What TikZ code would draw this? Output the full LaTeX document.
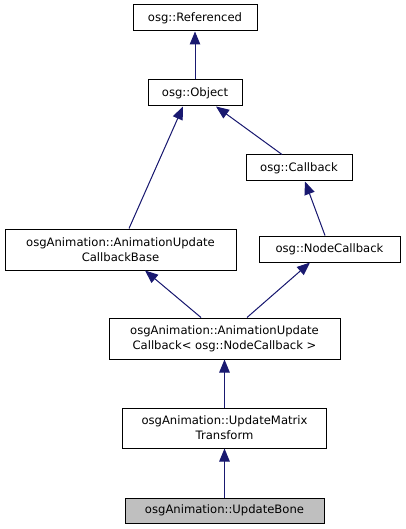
\documentclass[tikz,border=0pt]{standalone}
\usepackage{fontspec}
\setmainfont{DejaVu Sans}
\usetikzlibrary{arrows.meta}
\definecolor{edgeblue}{HTML}{191970}
\definecolor{hlgrey}{HTML}{BFBFBF}
\begin{document}
\begin{tikzpicture}[x=1pt,y=-1pt,
  cls/.style={draw=black,line width=1pt,fill=white,inner sep=0pt,align=center,
    font=\fontsize{11.6}{15}\selectfont},
  inh/.style={draw=edgeblue,line width=1pt,-{Triangle[length=13pt,width=10.5pt]},fill=edgeblue}]
\useasboundingbox (0,0) rectangle (405,529);
\node[cls,minimum width=124,minimum height=26] (ref) at (195,18) {osg::Referenced};
\node[cls,minimum width=94,minimum height=26] (obj) at (195,93) {osg::Object};
\node[cls,minimum width=106,minimum height=26] (cb) at (299,168) {osg::Callback};
\node[cls,minimum width=231,minimum height=41] (base) at (120.5,249.5) {osgAnimation::AnimationUpdate\\CallbackBase};
\node[cls,minimum width=141,minimum height=26] (ncb) at (329.5,249) {osg::NodeCallback};
\node[cls,minimum width=231,minimum height=41] (auc) at (224.5,338.5) {osgAnimation::AnimationUpdate\\Callback< osg::NodeCallback >};
\node[cls,minimum width=204,minimum height=40] (umt) at (224.5,428) {osgAnimation::UpdateMatrix\\Transform};
\node[cls,fill=hlgrey,minimum width=199,minimum height=25] (ub) at (224.5,510.5) {osgAnimation::UpdateBone};
\draw[inh] (obj.north) -- (ref.south);
\draw[inh] ([xshift=8.5]base.north) -- ([xshift=-12]obj.south);
\draw[inh] ([xshift=-17]cb.north) -- ([xshift=21]obj.south);
\draw[inh] ([xshift=-4.5]ncb.north) -- ([xshift=6]cb.south);
\draw[inh] ([xshift=-23.5]auc.north) -- ([xshift=24.5]base.south);
\draw[inh] ([xshift=22.5]auc.north) -- ([xshift=-19.5]ncb.south);
\draw[inh] (umt.north) -- (auc.south);
\draw[inh] (ub.north) -- (umt.south);
\end{tikzpicture}
\end{document}
